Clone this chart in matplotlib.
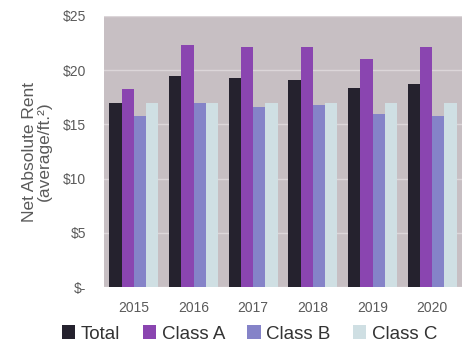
import matplotlib
matplotlib.use("Agg")
import matplotlib.pyplot as plt
import numpy as np

plt.rcParams['font.family'] = ['Liberation Sans', 'DejaVu Sans']

years = ["2015", "2016", "2017", "2018", "2019", "2020"]
series_names = ["Total", "Class A", "Class B", "Class C"]
total = [16.95, 19.5, 19.3, 19.1, 18.35, 18.75]
class_a = [18.3, 22.35, 22.1, 22.1, 21.05, 22.1]
class_b = [15.8, 16.95, 16.6, 16.75, 15.95, 15.8]
class_c = [17.0, 17.0, 17.0, 17.0, 17.0, 17.0]
yticks = [0, 5, 10, 15, 20, 25]
ytick_labels = ["$-", "$5", "$10", "$15", "$20", "$25"]

colors = ["#25222e", "#8a45b0", "#8583c8", "#cfdfe3"]
series = [total, class_a, class_b, class_c]

fig = plt.figure(figsize=(4.71, 3.43), dpi=100)
ax = fig.add_axes([104/471, 1-287/343, (462-104)/471, (287-16)/343])
ax.set_facecolor("#c7bfc3")

x = np.arange(len(years))
w = 0.205
for i, (vals, c, name) in enumerate(zip(series, colors, series_names)):
    ax.bar(x + (i - 1.5) * w, vals, width=w, color=c, label=name, zorder=2)

ax.set_xlim(-0.5, len(years) - 0.5)
ax.set_ylim(0, 25)
ax.set_yticks(yticks)
ax.set_yticklabels(ytick_labels)
ax.set_xticks(x)
ax.set_xticklabels(years)
ax.grid(axis='y', color='#dcd6d9', linewidth=1.0, zorder=1)
ax.tick_params(axis='both', length=0, labelsize=10, labelcolor='#5a5a5a')
ax.tick_params(axis='y', pad=13)
ax.tick_params(axis='x', pad=10)
for s in ax.spines.values():
    s.set_visible(False)

ax.set_ylabel("Net Absolute Rent\n(average/ft.²)", fontsize=12.5, color='#5a5a5a', labelpad=8, linespacing=0.95)

leg = fig.legend(loc='center', bbox_to_anchor=(0.53, 1 - 334/343), ncol=4, frameon=False,
                 fontsize=13.5, handlelength=0.7, handleheight=0.7, handletextpad=0.3,
                 columnspacing=1.2, labelcolor='#333333')

fig.savefig("out.png", dpi=100)
